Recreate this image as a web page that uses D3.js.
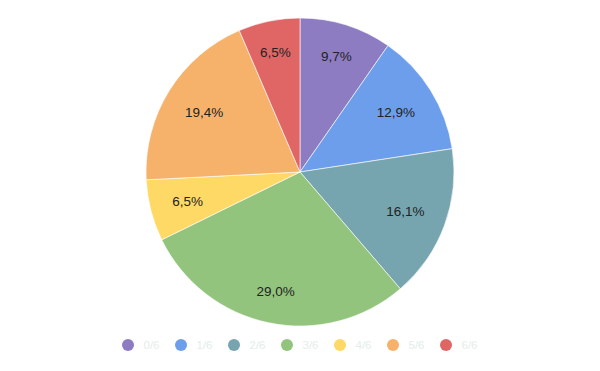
<!DOCTYPE html>
<html>
<head>
<meta charset="utf-8">
<script src="https://cdn.jsdelivr.net/npm/d3@7"></script>
<style>
  body { margin: 0; background: #fff; }
  text { font-family: Arial, "Liberation Sans", sans-serif; }
</style>
</head>
<body>
<div id="chart"></div>
<script>
const svgWidth = 600;
const svgHeight = 371;

const categories = ["0/6", "1/6", "2/6", "3/6", "4/6", "5/6", "6/6"];
const counts = [3, 4, 5, 9, 2, 6, 2];
const colors = ["#8e7cc3", "#6d9eeb", "#76a5af", "#93c47d", "#ffd966", "#f6b26b", "#e06666"];

const cx = 300, cy = 172, radius = 154;
// the far corner of each label box sits on this radius
const labelOuter = 132.5;

const total = d3.sum(counts);
const data = categories.map((c, i) => ({ cat: c, value: counts[i], color: colors[i] }));

let svg = d3.select("#chart")
    .append("svg")
    .attr("width", svgWidth)
    .attr("height", svgHeight);

const pieGroup = svg.append("g")
    .attr("transform", `translate(${cx}, ${cy})`);

const pie = d3.pie().value(d => d.value).sort(null);
const arc = d3.arc().innerRadius(0).outerRadius(radius);

const arcs = pie(data);

pieGroup.selectAll("path")
    .data(arcs)
    .enter()
    .append("path")
    .attr("d", arc)
    .attr("fill", d => d.data.color)
    .attr("stroke", "#fff")
    .attr("stroke-width", 0.6);

const fmt = v => d3.format(".1f")(v).replace(".", ",") + "%";

let labels = pieGroup.selectAll("text.lbl")
    .data(arcs)
    .enter()
    .append("text")
    .attr("class", "lbl")
    .attr("dy", "0.36em")
    .attr("text-anchor", "middle")
    .attr("font-size", "13.5px")
    .attr("fill", "#222")
    .text(d => fmt(d.data.value / total * 100));

labels.each(function(d) {
    const w = this.getComputedTextLength();
    const h = 12;
    const a = (d.startAngle + d.endAngle) / 2;
    const ux = Math.sin(a), uy = -Math.cos(a);
    const b = Math.abs(ux) * w + Math.abs(uy) * h;
    const c = (w * w + h * h) / 4 - labelOuter * labelOuter;
    const t = (-b + Math.sqrt(b * b - 4 * c)) / 2;
    d3.select(this).attr("transform", `translate(${t * ux}, ${t * uy})`);
});

// legend
const legendX = d3.scalePoint()
    .domain(categories)
    .range([128, 446]);

const legend = svg.append("g")
    .attr("transform", "translate(0, 345)");

const items = legend.selectAll("g")
    .data(data)
    .enter()
    .append("g")
    .attr("transform", d => `translate(${legendX(d.cat)}, 0)`);

items.append("circle")
    .attr("r", 6)
    .attr("fill", d => d.color);

items.append("text")
    .attr("x", 15.5)
    .attr("dy", "0.36em")
    .attr("font-size", "11.5px")
    .attr("fill", "#e3ede9")
    .text(d => d.cat);
</script>
</body>
</html>
